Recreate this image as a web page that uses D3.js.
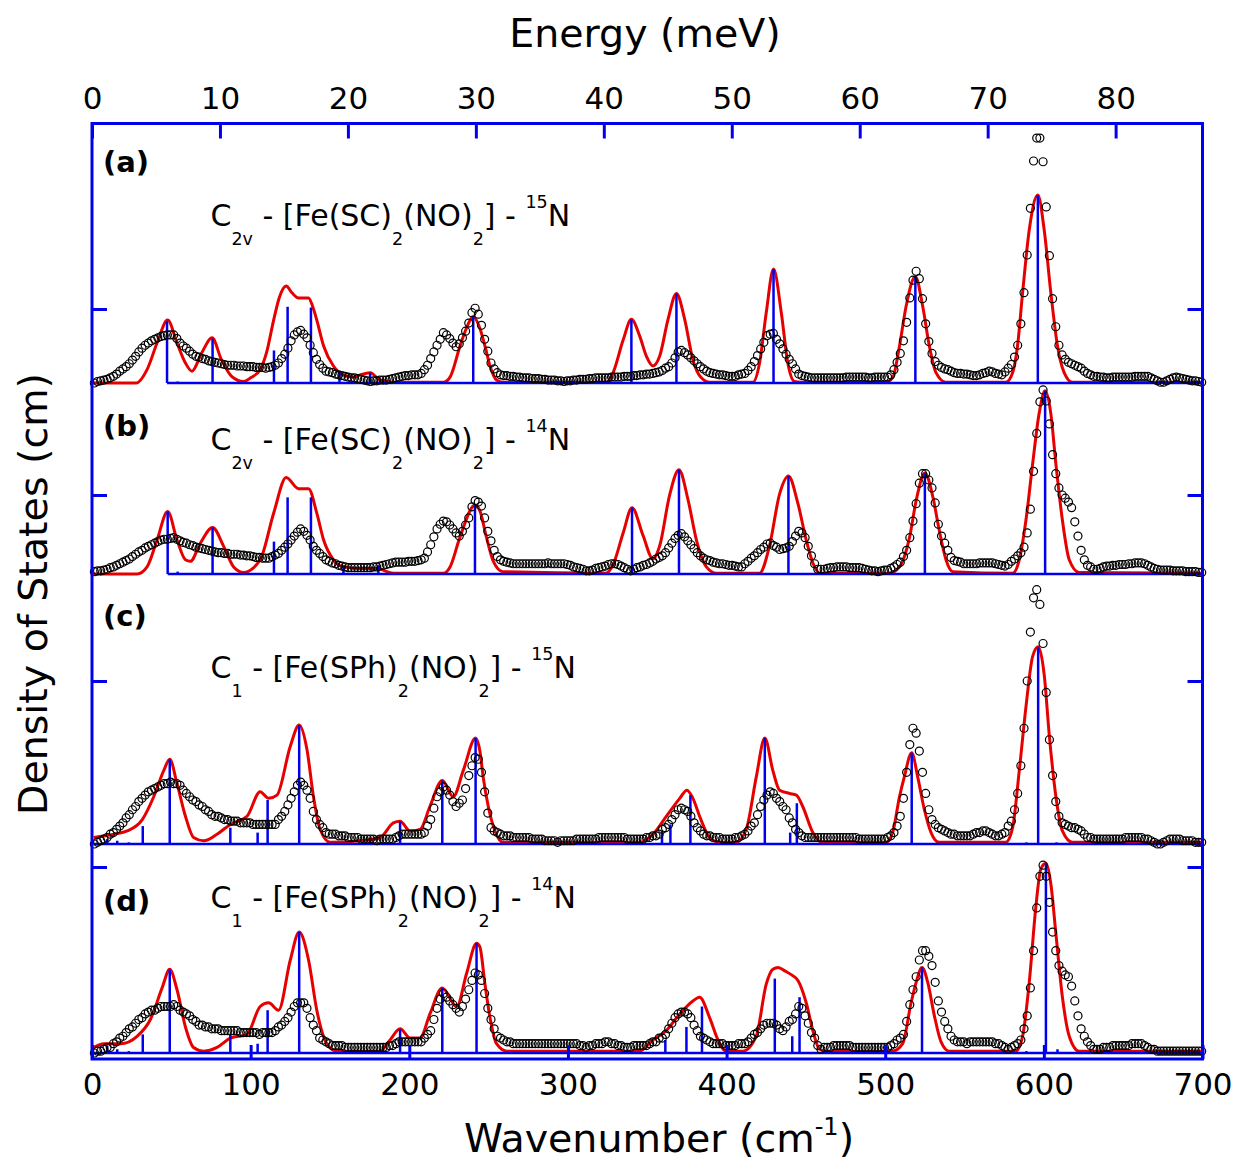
<!DOCTYPE html>
<html>
<head>
<meta charset="utf-8">
<script src="https://cdn.jsdelivr.net/npm/d3@7"></script>
<style>
  body { margin: 0; background: #fff; }
  text { font-family: "DejaVu Sans", Verdana, sans-serif; }
</style>
</head>
<body>
<svg id="chart" width="1236" height="1162"></svg>
<script>
// ---- data -------------------------------------------------------------
// DOS in units of the single y tick of each panel
const panelIds = ["a", "b", "c", "d"];
const symmetry = ["2v", "2v", "1", "1"];
const ligand = ["SC", "SC", "SPh", "SPh"];
const isotope = ["15", "14", "15", "14"];

// experimental NRVS points, one every 2 cm-1 starting at 1.5 cm-1
const expStart = 1.5, expStep = 2;
const expA = [
  0, .02, .03, .04, .05, .07, .09, .12, .16, .19,
  .22, .26, .31, .36, .42, .47, .51, .54, .57, .59,
  .61, .63, .64, .65, .65, .65, .60, .54, .50, .47,
  .43, .39, .36, .35, .33, .32, .30, .29, .28, .27,
  .26, .25, .24, .24, .24, .23, .23, .23, .22, .22,
  .22, .21, .21, .21, .20, .21, .22, .24, .27, .33,
  .39, .47, .57, .65, .69, .71, .66, .61, .51, .41,
  .32, .25, .20, .16, .15, .14, .12, .11, .10, .09,
  .08, .07, .07, .06, .05, .04, .03, .02, .03, .03,
  .04, .04, .04, .05, .06, .07, .08, .09, .10, .10,
  .11, .11, .11, .13, .18, .24, .33, .42, .51, .59,
  .68, .65, .60, .54, .49, .53, .61, .70, .81, .95,
  1.01, .93, .78, .59, .43, .27, .19, .14, .11, .10,
  .10, .09, .09, .08, .08, .07, .07, .07, .06, .06,
  .06, .05, .05, .04, .04, .04, .03, .03, .02, .03,
  .03, .04, .04, .05, .05, .05, .06, .06, .07, .07,
  .07, .07, .07, .08, .08, .08, .08, .09, .09, .09,
  .10, .10, .11, .11, .12, .12, .13, .14, .15, .17,
  .20, .22, .27, .34, .42, .44, .41, .38, .34, .30,
  .26, .22, .19, .16, .14, .13, .12, .11, .11, .10,
  .09, .09, .09, .11, .12, .13, .17, .22, .29, .37,
  .46, .55, .64, .66, .67, .59, .53, .46, .39, .32,
  .26, .19, .12, .10, .09, .08, .07, .07, .07, .07,
  .07, .07, .07, .07, .07, .07, .07, .08, .08, .08,
  .08, .08, .08, .08, .07, .07, .08, .08, .08, .08,
  .08, .11, .18, .28, .40, .57, .82, 1.15, 1.39, 1.51,
  1.41, 1.14, .80, .56, .40, .29, .24, .21, .19, .18,
  .16, .14, .13, .13, .12, .12, .11, .10, .10, .11,
  .13, .14, .16, .15, .13, .12, .11, .15, .20, .25,
  .35, .51, .80, 1.22, 1.73, 2.36, 3.00, 3.31, 3.31, 2.99,
  2.38, 1.72, 1.14, .76, .51, .38, .32, .28, .26, .24,
  .22, .20, .16, .13, .11, .09, .09, .08, .08, .07,
  .07, .08, .08, .08, .08, .08, .08, .08, .09, .09,
  .09, .09, .09, .07, .05, .03, .01, .01, .03, .05,
  .07, .08, .07, .06, .05, .04, .03, .03, .02, .01
];
const expB = [
  .03, .04, .04, .05, .06, .08, .09, .11, .13, .15,
  .17, .19, .22, .25, .28, .30, .33, .35, .37, .39,
  .41, .43, .44, .44, .45, .46, .44, .42, .40, .39,
  .37, .36, .34, .33, .32, .31, .30, .29, .28, .27,
  .27, .26, .26, .25, .25, .25, .24, .24, .23, .23,
  .22, .21, .21, .20, .20, .20, .22, .24, .26, .30,
  .34, .38, .43, .48, .53, .57, .54, .49, .43, .35,
  .30, .26, .22, .18, .16, .14, .13, .11, .10, .09,
  .08, .08, .08, .08, .08, .08, .08, .08, .09, .09,
  .10, .11, .12, .13, .14, .15, .15, .15, .15, .16,
  .16, .16, .17, .18, .20, .28, .37, .47, .57, .63,
  .67, .66, .62, .57, .52, .48, .54, .62, .71, .85,
  .93, .91, .86, .71, .54, .42, .30, .22, .18, .16,
  .15, .14, .13, .13, .13, .13, .13, .13, .13, .13,
  .13, .13, .13, .14, .13, .13, .13, .13, .13, .12,
  .11, .09, .08, .07, .06, .04, .04, .05, .07, .08,
  .09, .10, .12, .13, .13, .12, .10, .08, .06, .04,
  .06, .08, .09, .11, .12, .14, .16, .19, .21, .23,
  .27, .33, .39, .45, .49, .51, .47, .42, .37, .32,
  .27, .23, .20, .18, .17, .15, .14, .13, .13, .12,
  .11, .11, .10, .09, .09, .13, .16, .20, .23, .27,
  .31, .34, .38, .39, .36, .34, .31, .32, .33, .35,
  .41, .48, .54, .52, .46, .35, .23, .13, .06, .06,
  .06, .07, .08, .08, .09, .09, .09, .09, .08, .08,
  .08, .08, .07, .06, .05, .04, .04, .03, .04, .05,
  .05, .07, .09, .12, .15, .22, .30, .46, .67, .89,
  1.15, 1.27, 1.27, 1.19, 1.09, .90, .63, .48, .39, .30,
  .21, .17, .16, .15, .13, .13, .13, .13, .13, .14,
  .14, .14, .14, .14, .13, .12, .11, .10, .12, .16,
  .19, .23, .27, .34, .52, .82, 1.30, 1.78, 2.18, 2.33,
  2.19, 1.90, 1.51, 1.27, 1.09, 1.00, .96, .91, .84, .66,
  .48, .30, .18, .11, .09, .06, .06, .07, .09, .10,
  .10, .11, .11, .12, .12, .12, .13, .13, .14, .14,
  .14, .13, .11, .09, .07, .06, .05, .05, .05, .05,
  .04, .04, .04, .04, .03, .03, .03, .03, .02, .02
];
const expC = [
  0, .01, .02, .03, .04, .06, .07, .09, .11, .13,
  .16, .18, .21, .23, .26, .28, .30, .32, .33, .34,
  .35, .36, .37, .37, .38, .37, .37, .36, .33, .31,
  .29, .27, .26, .24, .23, .21, .20, .18, .17, .17,
  .16, .15, .15, .14, .14, .14, .13, .13, .13, .13,
  .12, .12, .12, .12, .12, .12, .12, .12, .15, .17,
  .20, .24, .28, .32, .36, .38, .36, .33, .28, .20,
  .15, .12, .10, .07, .06, .06, .06, .05, .05, .05,
  .04, .04, .04, .04, .03, .03, .03, .03, .03, .02,
  .03, .03, .03, .03, .03, .04, .05, .06, .06, .06,
  .06, .06, .06, .06, .07, .11, .15, .22, .29, .32,
  .35, .33, .30, .26, .23, .25, .27, .34, .42, .48,
  .53, .52, .44, .32, .19, .10, .08, .07, .06, .05,
  .05, .05, .04, .04, .04, .04, .04, .04, .03, .03,
  .03, .03, .02, .02, .02, .02, .01, .02, .02, .02,
  .02, .02, .03, .03, .03, .03, .03, .03, .03, .04,
  .04, .04, .04, .04, .04, .04, .04, .04, .03, .03,
  .03, .03, .03, .03, .04, .04, .05, .05, .06, .09,
  .10, .12, .15, .18, .21, .22, .21, .20, .17, .13,
  .10, .08, .06, .05, .05, .04, .04, .04, .03, .03,
  .03, .03, .04, .04, .05, .06, .08, .11, .13, .18,
  .23, .27, .30, .32, .31, .28, .26, .23, .21, .16,
  .13, .09, .07, .05, .04, .04, .04, .04, .04, .04,
  .04, .04, .04, .04, .04, .04, .04, .04, .04, .04,
  .04, .03, .03, .03, .03, .03, .03, .03, .03, .03,
  .04, .05, .07, .11, .17, .28, .44, .61, .71, .68,
  .57, .44, .31, .21, .15, .12, .10, .09, .08, .07,
  .06, .06, .05, .05, .05, .05, .05, .06, .07, .07,
  .08, .08, .07, .06, .05, .05, .06, .07, .11, .14,
  .21, .31, .48, .71, 1.00, 1.30, 1.51, 1.56, 1.47, 1.23,
  .93, .64, .42, .26, .17, .13, .12, .11, .10, .10,
  .09, .08, .06, .04, .04, .03, .03, .03, .03, .03,
  .03, .03, .03, .03, .03, .04, .04, .04, .04, .04,
  .04, .03, .03, .02, .01, .00, .00, .01, .02, .03,
  .03, .03, .03, .02, .02, .02, .02, .01, .01, .01
];
const expD = [
  0, .01, .01, .02, .03, .03, .05, .06, .08, .09,
  .11, .13, .14, .16, .18, .19, .21, .22, .23, .23,
  .24, .25, .25, .25, .25, .26, .25, .23, .22, .21,
  .20, .18, .17, .15, .15, .14, .14, .13, .13, .13,
  .12, .12, .12, .12, .12, .12, .11, .11, .11, .11,
  .11, .11, .10, .11, .11, .11, .11, .12, .14, .15,
  .17, .19, .22, .25, .27, .27, .27, .24, .19, .15,
  .12, .08, .07, .06, .05, .04, .04, .04, .04, .03,
  .03, .03, .03, .03, .03, .03, .03, .03, .03, .03,
  .03, .03, .03, .04, .04, .05, .06, .06, .06, .06,
  .06, .06, .06, .06, .08, .10, .12, .18, .24, .29,
  .32, .30, .28, .26, .24, .22, .25, .29, .34, .39,
  .43, .42, .39, .32, .24, .18, .13, .09, .08, .07,
  .06, .06, .05, .05, .05, .05, .05, .05, .05, .05,
  .05, .05, .05, .05, .05, .05, .05, .05, .05, .05,
  .05, .05, .05, .04, .04, .03, .04, .04, .05, .05,
  .05, .06, .06, .05, .05, .04, .04, .03, .03, .03,
  .04, .04, .04, .04, .04, .05, .06, .06, .08, .08,
  .10, .13, .16, .19, .21, .22, .22, .21, .19, .15,
  .12, .09, .08, .07, .06, .05, .05, .05, .05, .04,
  .04, .04, .04, .05, .05, .05, .06, .08, .10, .11,
  .13, .15, .16, .16, .16, .15, .13, .12, .14, .17,
  .18, .21, .25, .24, .20, .16, .11, .08, .04, .02,
  .03, .03, .03, .04, .04, .04, .04, .04, .04, .03,
  .03, .03, .03, .03, .03, .03, .03, .03, .03, .03,
  .03, .04, .05, .07, .08, .10, .17, .26, .34, .41,
  .50, .55, .55, .52, .47, .38, .28, .22, .17, .13,
  .09, .07, .06, .06, .06, .05, .06, .06, .06, .06,
  .06, .06, .06, .06, .05, .05, .04, .03, .02, .03,
  .04, .05, .07, .13, .20, .35, .55, .78, .95, 1.01,
  .95, .81, .65, .55, .47, .44, .42, .41, .36, .28,
  .20, .13, .09, .06, .04, .02, .02, .02, .03, .03,
  .03, .04, .04, .04, .04, .04, .04, .05, .05, .05,
  .05, .04, .03, .02, .02, .01, .01, .01, .01, .01,
  .01, .01, .01, .01, .01, .01, .01, .01, .01, .01
];

// calculated (DFT) broadened DOS, [wavenumber, DOS]
const calcA = [[0,0],[28,0],[34.7,.18],[41,.54],[47.7,.85],[53.6,.54],[58.9,.27],[63,.16],[69,.40],[75.7,.61],[81.5,.32],[88,.09],[95.6,.02],[100,.07],[106,.18],[110,.41],[114.5,.85],[118,1.15],[122.4,1.31],[126,1.22],[130.2,1.15],[136.5,1.15],[139,1.04],[141.7,.85],[146,.50],[152.2,.23],[158.5,.11],[165,.08],[169,.11],[175.3,.14],[181.6,.04],[190,.01],[221.5,.01],[225.7,.08],[232,.50],[236,.74],[240.3,.90],[244.5,.74],[247.7,.50],[250.9,.23],[255,.04],[259,.01],[324.3,.01],[328.5,.14],[334.8,.58],[340,.86],[345.3,.63],[349.5,.36],[353.6,.23],[357.8,.36],[363.1,.86],[368.4,1.21],[373.6,.86],[378.8,.31],[384.1,.07],[389.3,.01],[416.6,.01],[420.8,.27],[425,.95],[429.6,1.54],[434.5,.95],[438.6,.27],[442.8,.02],[447,.01],[500,.01],[504.7,.07],[509,.50],[513.2,1.04],[519,1.44],[523.6,1.04],[527.8,.50],[532,.14],[538.3,.01],[576,.01],[580.3,.14],[583.4,.50],[586.6,1.22],[590.8,2.07],[596.2,2.54],[600.2,2.07],[604.4,1.22],[608.6,.50],[612.8,.14],[618,.01],[700,.01]];
const calcB = [[0,0],[28.4,0],[34.7,.09],[41,.43],[47.7,.79],[53.6,.43],[58.9,.18],[62,.16],[68.3,.39],[76,.59],[83,.35],[89.3,.09],[95.6,.02],[106,.18],[114.5,.77],[122.4,1.22],[130.2,1.08],[136.5,1.08],[141.7,.77],[146,.43],[152.2,.18],[158.5,.09],[169,.07],[179.5,.07],[190,.01],[221.5,.01],[225.7,.09],[232,.47],[241.4,.87],[244.5,.80],[248.7,.46],[253,.16],[259,.03],[324,.01],[328.5,.12],[334.8,.52],[340.4,.84],[347.3,.49],[353.6,.19],[357.9,.36],[364,.99],[370,1.32],[375.7,.94],[381,.43],[387.3,.09],[393.6,.01],[420.8,.01],[427,.35],[433.4,1.01],[439,1.24],[445,.89],[450.2,.43],[454.4,.14],[459,.01],[502.6,.01],[509,.09],[515.4,.47],[519.6,.94],[525,1.28],[530,.98],[534,.56],[538.3,.18],[542.5,.03],[580.3,.01],[584.5,.18],[588.7,.68],[592.9,1.39],[597,2.03],[600.8,2.32],[604.4,2.03],[607.6,1.39],[611.7,.68],[616,.18],[622.2,.02],[700,.01]];
const calcC = [[1.1,.04],[13.7,.06],[22.2,.08],[31.7,.15],[38.9,.29],[45.2,.45],[49,.52],[53.6,.37],[58.9,.17],[64,.04],[70.4,.02],[78.8,.06],[87.2,.12],[97.7,.17],[106,.32],[111.3,.28],[116.6,.30],[125,.60],[130.6,.73],[135.5,.58],[139.6,.29],[143.8,.09],[150.1,.01],[169,.02],[181.6,.04],[190,.13],[194.2,.14],[200.5,.08],[206.8,.09],[213,.23],[220.8,.39],[227.7,.29],[234,.45],[241.8,.65],[244.5,.57],[246.6,.41],[249.8,.23],[254,.08],[259.2,.01],[345,.01],[353.6,.06],[362,.17],[370.5,.28],[375,.33],[378.8,.28],[383,.17],[389.3,.04],[395.6,.01],[406,.01],[412.4,.09],[418.7,.41],[424.1,.65],[429.2,.45],[433.4,.33],[439.7,.31],[444,.30],[448,.23],[454.4,.07],[460,.01],[500.6,.01],[504.7,.07],[509,.29],[512,.41],[516.7,.56],[520.5,.41],[524.7,.21],[528.9,.07],[534,.01],[576,.01],[580.3,.10],[584.5,.45],[588.7,.84],[592.9,1.15],[596.4,1.21],[600.2,1.04],[603.4,.67],[607.6,.29],[611.7,.08],[618,.01],[700,.01]];
const calcD = [[1.1,.03],[7.4,.05],[18,.05],[28.4,.09],[36.8,.18],[44.2,.35],[49,.45],[53.6,.34],[58.9,.14],[64,.03],[70.4,.01],[78.8,.03],[87.2,.08],[97.7,.10],[106,.25],[111.3,.27],[117.6,.23],[125,.50],[130.6,.65],[136.5,.50],[141.7,.23],[148,.05],[154.3,.01],[181.6,.01],[187.9,.07],[194.2,.13],[200.5,.08],[206.8,.08],[213,.21],[220.8,.35],[229.9,.25],[236.2,.43],[242.4,.59],[244.5,.57],[247.7,.37],[250.9,.19],[255,.05],[261.4,.01],[345,.01],[353.6,.07],[362,.12],[370.5,.21],[378.8,.28],[383,.30],[389.3,.19],[394.6,.07],[399.8,.01],[410.3,.01],[418.7,.09],[425,.37],[429.2,.45],[432.5,.46],[437,.44],[441,.42],[445,.39],[450.2,.27],[454.4,.12],[458.6,.02],[463,.01],[504.7,.01],[511,.05],[516.3,.27],[519.5,.38],[523.2,.46],[526.8,.38],[531,.20],[535.2,.06],[540.4,.01],[582.4,.01],[586.6,.09],[590.8,.38],[595,.79],[598.1,.99],[601.3,1.02],[604.4,.91],[607.6,.64],[611.7,.30],[616,.09],[622.2,.01],[700,.01]];

// calculated mode intensities (sticks), [wavenumber, DOS]
const stickA = [[47.3,.84],[54,.02],[76,.60],[114.7,.44],[123.3,1.03],[138,1.02],[156,.15],[175.3,.14],[240.3,.90],[340,.86],[368.4,1.21],[429.6,1.54],[519,1.44],[596.2,2.54]];
const stickB = [[47.7,.79],[54,.03],[76,.59],[114.7,.41],[123.3,.97],[138,.97],[158.5,.11],[180.5,.11],[241.4,.87],[340.4,.84],[370,1.32],[439,1.24],[525,1.28],[600.8,2.32]];
const stickC = [[1,0],[9.6,.03],[15.9,.02],[23.2,.01],[32,.11],[49,.52],[87.2,.10],[104.4,.07],[110.7,.27],[130.6,.73],[175.3,.02],[194.2,.14],[220.8,.39],[241.8,.65],[320,.01],[345,.01],[359.3,.08],[364.6,.12],[377.2,.30],[424.1,.65],[440.1,.07],[444.3,.25],[516.7,.56],[589,.01],[596.4,1.21],[608,.01]];
const stickD = [[1,0],[9.6,.04],[15.9,.02],[23.2,.01],[32,.10],[49,.45],[87.2,.10],[104.4,.05],[110.7,.23],[130.6,.65],[175.3,.01],[194.2,.13],[220.8,.35],[242.4,.59],[327,.01],[361.4,.07],[374.7,.14],[384.5,.25],[430.4,.40],[441.4,.09],[446,.30],[523.2,.46],[589,.01],[601.3,1.02],[608.6,.02]];

const wavenumberTicks = [0, 100, 200, 300, 400, 500, 600, 700];
const energyTicks = [0, 10, 20, 30, 40, 50, 60, 70, 80];
const cmPerMeV = 8.0655;

// ---- layout ------------------------------------------------------------
const blue = "#0000ee", red = "#e60000";
const frame = { left: 92, right: 1202.5, top: 123.5, bottom: 1059 };
// pixel row of zero and of the unit tick, per panel
const panelRows = [
  { base: 383, unit: 309, labelY: 172, formulaY: 226 },
  { base: 574, unit: 495, labelY: 436, formulaY: 450 },
  { base: 844, unit: 681, labelY: 626, formulaY: 678 },
  { base: 1053, unit: 867, labelY: 911, formulaY: 908 }
];

const svg = d3.select("#chart");
svg.append("rect").attr("width", 1236).attr("height", 1162).attr("fill", "#fff");

const x = d3.scaleLinear().domain([0, 700]).range([frame.left, frame.right]);
const xE = d3.scaleLinear().domain([0, 700 / cmPerMeV]).range([frame.left, frame.right]);

const expSets = [expA, expB, expC, expD];
const calcSets = [calcA, calcB, calcC, calcD];
const stickSets = [stickA, stickB, stickC, stickD];

panelIds.forEach((id, i) => {
  const row = panelRows[i];
  const y = d3.scaleLinear().domain([0, 1]).range([row.base, row.unit]);
  const g = svg.append("g").attr("class", "panel-" + id);

  // calculated curve
  const line = d3.line()
    .x(d => x(d[0]))
    .y(d => y(d[1]))
    .curve(d3.curveMonotoneX);
  g.append("path")
    .datum(calcSets[i])
    .attr("d", line)
    .attr("fill", "none")
    .attr("stroke", red)
    .attr("stroke-width", 3);

  // stick baseline + sticks
  const sticks = stickSets[i];
  g.append("line")
    .attr("x1", x(d3.min(sticks, d => d[0])))
    .attr("x2", x(700))
    .attr("y1", y(0)).attr("y2", y(0))
    .attr("stroke", blue).attr("stroke-width", 2.5);
  g.selectAll("line.stick")
    .data(sticks)
    .join("line")
    .attr("class", "stick")
    .attr("x1", d => x(d[0])).attr("x2", d => x(d[0]))
    .attr("y1", y(0)).attr("y2", d => y(d[1]))
    .attr("stroke", blue).attr("stroke-width", 2.5);

  // experimental points
  g.selectAll("circle")
    .data(expSets[i])
    .join("circle")
    .attr("cx", (d, k) => x(expStart + k * expStep))
    .attr("cy", d => y(d))
    .attr("r", 4)
    .attr("fill", "none")
    .attr("stroke", "#000")
    .attr("stroke-width", 1.2);

  // unit ticks on both sides
  const left = g.append("g").attr("transform", `translate(${frame.left},0)`)
    .call(d3.axisLeft(y).tickValues([1]).tickSize(-15).tickFormat(""));
  const right = g.append("g").attr("transform", `translate(${frame.right},0)`)
    .call(d3.axisRight(y).tickValues([1]).tickSize(-15).tickFormat(""));
  [left, right].forEach(a => {
    a.select(".domain").remove();
    a.selectAll("line").attr("stroke", blue).attr("stroke-width", 3);
  });

  // panel letter
  svg.append("text")
    .attr("x", 103).attr("y", row.labelY)
    .attr("font-size", 29).attr("font-weight", "bold")
    .text(`(${id})`);

  // formula label
  const t = svg.append("text")
    .attr("x", 210.5).attr("y", row.formulaY)
    .attr("font-size", 30);
  t.append("tspan").text("C");
  t.append("tspan").attr("font-size", 17.5).attr("dy", 19).text(symmetry[i]);
  t.append("tspan").attr("dy", -19).text(` - [Fe(${ligand[i]})`);
  t.append("tspan").attr("font-size", 17.5).attr("dy", 19).text("2");
  t.append("tspan").attr("dy", -19).text("(NO)");
  t.append("tspan").attr("font-size", 17.5).attr("dy", 19).text("2");
  t.append("tspan").attr("dy", -19).text("] - ");
  t.append("tspan").attr("font-size", 17.5).attr("dy", -18).text(isotope[i]);
  t.append("tspan").attr("dy", 18).text("N");
});

// frame
svg.append("rect")
  .attr("x", frame.left).attr("y", frame.top)
  .attr("width", frame.right - frame.left)
  .attr("height", frame.bottom - frame.top)
  .attr("fill", "none").attr("stroke", blue).attr("stroke-width", 3);

// bottom axis (wavenumber)
const bottomAxis = svg.append("g")
  .attr("transform", `translate(0,${frame.bottom})`)
  .call(d3.axisBottom(x).tickValues(wavenumberTicks).tickSize(-14).tickSizeOuter(0).tickPadding(14));
// top axis (energy)
const topAxis = svg.append("g")
  .attr("transform", `translate(0,${frame.top})`)
  .call(d3.axisTop(xE).tickValues(energyTicks).tickSize(-15).tickSizeOuter(0).tickPadding(15));
[bottomAxis, topAxis].forEach(a => {
  a.select(".domain").remove();
  a.selectAll(".tick line").attr("stroke", blue).attr("stroke-width", 3);
  a.selectAll(".tick text")
    .attr("fill", "#000")
    .attr("font-size", 31)
    .attr("font-family", '"DejaVu Sans", Verdana, sans-serif');
});

// axis titles
svg.append("text")
  .attr("x", 645).attr("y", 47)
  .attr("text-anchor", "middle").attr("font-size", 39.5)
  .text("Energy (meV)");

const xt = svg.append("text")
  .attr("x", 659).attr("y", 1152)
  .attr("text-anchor", "middle").attr("font-size", 39.5);
xt.append("tspan").text("Wavenumber (cm");
xt.append("tspan").attr("font-size", 24).attr("dy", -17).text("-1");
xt.append("tspan").attr("dy", 17).text(")");

svg.append("text")
  .attr("transform", "translate(47,594) rotate(-90)")
  .attr("text-anchor", "middle").attr("font-size", 39.5)
  .text("Density of States (cm)");
</script>
</body>
</html>
